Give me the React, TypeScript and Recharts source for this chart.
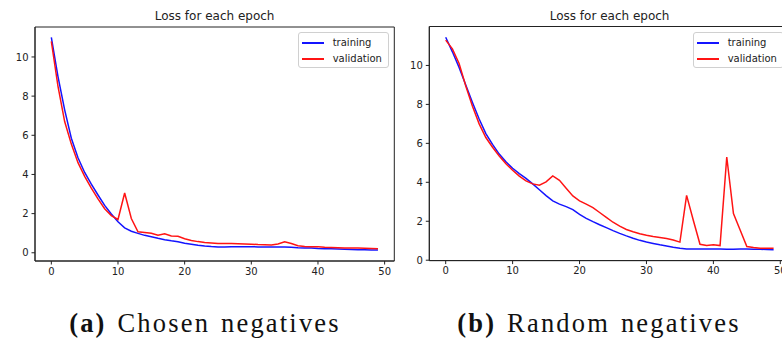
import React from 'react';
import { Legend, Line, LineChart, ReferenceArea, XAxis, YAxis } from 'recharts';

const epochs = [
  0, 1, 2, 3, 4, 5, 6, 7, 8, 9, 10, 11, 12, 13, 14, 15, 16, 17, 18, 19, 20, 21, 22, 23, 24,
  25, 26, 27, 28, 29, 30, 31, 32, 33, 34, 35, 36, 37, 38, 39, 40, 41, 42, 43, 44, 45, 46, 47, 48, 49,
];

const chosenTraining = [
  11.0, 9.0, 7.3, 5.85, 4.85, 4.1, 3.5, 2.95, 2.42, 1.98, 1.58, 1.27, 1.1, 0.99, 0.89, 0.82, 0.74,
  0.67, 0.61, 0.56, 0.49, 0.44, 0.39, 0.35, 0.32, 0.3, 0.3, 0.31, 0.31, 0.31, 0.31, 0.3, 0.3, 0.29,
  0.29, 0.29, 0.28, 0.26, 0.25, 0.24, 0.22, 0.21, 0.2, 0.19, 0.18, 0.17, 0.16, 0.15, 0.14, 0.14,
];
const chosenValidation = [
  10.8, 8.5, 6.7, 5.55, 4.6, 3.9, 3.3, 2.75, 2.25, 1.9, 1.7, 3.05, 1.75, 1.07, 1.04, 1.0, 0.9, 0.97,
  0.86, 0.84, 0.72, 0.63, 0.57, 0.52, 0.5, 0.48, 0.47, 0.47, 0.46, 0.45, 0.44, 0.42, 0.41, 0.4, 0.45,
  0.56, 0.47, 0.36, 0.32, 0.31, 0.31, 0.28, 0.27, 0.26, 0.25, 0.24, 0.24, 0.23, 0.22, 0.21,
];

const randomTraining = [
  11.45, 10.7, 9.9, 9.0, 8.1, 7.25, 6.5, 5.95, 5.45, 5.05, 4.72, 4.45, 4.2, 3.92, 3.62, 3.32, 3.05,
  2.88, 2.75, 2.6, 2.35, 2.15, 1.98, 1.82, 1.67, 1.52, 1.38, 1.25, 1.13, 1.02, 0.93, 0.86, 0.79, 0.73,
  0.67, 0.62, 0.58, 0.58, 0.58, 0.57, 0.57, 0.57, 0.56, 0.56, 0.57, 0.57, 0.56, 0.56, 0.55, 0.54,
];
const randomValidation = [
  11.3, 10.85, 10.1, 8.95, 7.9, 7.0, 6.3, 5.8, 5.35, 4.95, 4.62, 4.32, 4.07, 3.92, 3.85, 4.02, 4.33,
  4.1, 3.7, 3.3, 3.05, 2.88, 2.7, 2.45, 2.2, 1.95, 1.75, 1.58, 1.46, 1.36, 1.28, 1.22, 1.17, 1.12,
  1.04, 0.93, 3.33, 2.05, 0.82, 0.75, 0.79, 0.75, 5.3, 2.4, 1.55, 0.7, 0.65, 0.62, 0.62, 0.62,
];

const xTicks = [0, 10, 20, 30, 40, 50];
const yTicks = [0, 2, 4, 6, 8, 10];
const seriesNames = ['training', 'validation'];
const title = 'Loss for each epoch';

const BLUE = '#1414ff';
const RED = '#ff1414';
const X_DOMAIN: [number, number] = [-2.45, 51.45];

const tickStyle = { fontSize: 10, fontFamily: 'DejaVu Sans', fill: '#222' };

const toRows = (training: number[], validation: number[]) =>
  epochs.map((epoch, i) => ({ epoch, training: training[i], validation: validation[i] }));

const LegendBox = () => (
  <div
    style={{
      position: 'relative',
      width: 91,
      height: 36,
      boxSizing: 'border-box',
      border: '1px solid #d0d0d0',
      borderRadius: 3,
      background: 'rgba(255,255,255,0.85)',
      fontFamily: 'DejaVu Sans',
      fontSize: 10,
      color: '#222',
    }}
  >
    {seriesNames.map((name, i) => (
      <div key={name} style={{ position: 'absolute', left: 3, top: 4 + i * 16, height: 12, display: 'flex', alignItems: 'center' }}>
        <span style={{ display: 'inline-block', width: 22, height: 1.6, background: i === 0 ? BLUE : RED }} />
        <span style={{ marginLeft: 9, lineHeight: '12px' }}>{name}</span>
      </div>
    ))}
  </div>
);

type PanelProps = {
  rows: { epoch: number; training: number; validation: number }[];
  yDomain: [number, number];
  width: number;
  height: number;
  margin: { top: number; right: number; bottom: number; left: number };
  xAxisHeight: number;
  legendLeft: number;
};

const LossPanel = ({ rows, yDomain, width, height, margin, xAxisHeight, legendLeft }: PanelProps) => (
  <LineChart width={width} height={height} data={rows} margin={margin}>
    <XAxis
      dataKey="epoch"
      type="number"
      domain={X_DOMAIN}
      ticks={xTicks}
      allowDataOverflow
      height={xAxisHeight}
      tick={tickStyle}
      tickSize={3.5}
      tickMargin={3}
      stroke="#222"
    />
    <YAxis
      type="number"
      domain={yDomain}
      ticks={yTicks}
      allowDataOverflow
      width={35}
      tick={tickStyle}
      tickSize={3.5}
      tickMargin={3}
      stroke="#222"
    />
    <ReferenceArea
      x1={X_DOMAIN[0]}
      x2={X_DOMAIN[1]}
      y1={yDomain[0]}
      y2={yDomain[1]}
      fill="none"
      stroke="#222"
      strokeWidth={1}
      ifOverflow="visible"
    />
    <Line type="linear" dataKey="training" stroke={BLUE} strokeWidth={1.5} dot={false} isAnimationActive={false} />
    <Line type="linear" dataKey="validation" stroke={RED} strokeWidth={1.5} dot={false} isAnimationActive={false} />
    <Legend
      layout="horizontal"
      verticalAlign="middle"
      align="center"
      content={() => <LegendBox />}
      wrapperStyle={{ position: 'absolute', left: legendLeft, top: 32, width: 'auto', height: 'auto' }}
    />
  </LineChart>
);

const titleStyle: React.CSSProperties = {
  position: 'absolute',
  top: 10,
  width: 200,
  textAlign: 'center',
  fontFamily: 'DejaVu Sans',
  fontSize: 12,
  lineHeight: '12px',
  color: '#222',
};

const captionStyle: React.CSSProperties = {
  position: 'absolute',
  top: 310,
  width: 410,
  textAlign: 'center',
  fontFamily: '"Liberation Serif"',
  fontSize: 26.5,
  lineHeight: '26px',
  letterSpacing: 2.2,
  wordSpacing: 2,
  color: '#111',
  whiteSpace: 'nowrap',
};

export default function App() {
  return (
    <div style={{ position: 'absolute', left: 0, top: 0, width: 782, height: 340, overflow: 'hidden', background: '#fff' }}>
      <div style={{ position: 'absolute', left: 0, top: 0 }}>
        <LossPanel
          rows={toRows(chosenTraining, chosenValidation)}
          yDomain={[-0.42, 11.53]}
          width={400}
          height={290}
          margin={{ top: 27, right: 5.7, bottom: 0, left: 0 }}
          xAxisHeight={29}
          legendLeft={297.7}
        />
      </div>
      <div style={{ position: 'absolute', left: 390, top: 0 }}>
        <LossPanel
          rows={toRows(randomTraining, randomValidation)}
          yDomain={[-0.02, 12.0]}
          width={410}
          height={290}
          margin={{ top: 26.5, right: 10, bottom: 0, left: 4.3 }}
          xAxisHeight={29.4}
          legendLeft={302.7}
        />
      </div>
      <div style={{ ...titleStyle, left: 114.6 }}>{title}</div>
      <div style={{ ...titleStyle, left: 509.6 }}>{title}</div>
      <div style={{ ...captionStyle, left: 0 }}>
        <b>(a)</b> Chosen negatives
      </div>
      <div style={{ ...captionStyle, left: 394 }}>
        <b>(b)</b> Random negatives
      </div>
    </div>
  );
}
